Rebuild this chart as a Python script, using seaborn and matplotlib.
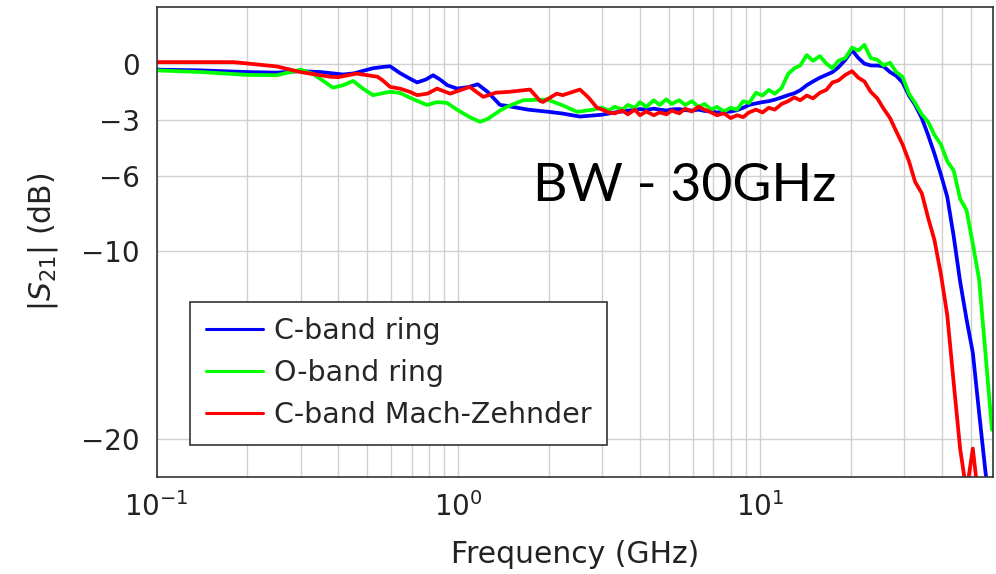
import matplotlib
matplotlib.use("Agg")
import matplotlib.pyplot as plt
import seaborn as sns
import pandas as pd
from matplotlib.ticker import FixedLocator, NullFormatter

# ---------------- data ----------------
series_names = ["C-band ring", "O-band ring", "C-band Mach-Zehnder"]
series_colors = ["#0000ff", "#00ff00", "#ff0000"]

# low-frequency parts (GHz, dB)
blue_freq_lf = [0.10, 0.14, 0.20, 0.25, 0.30, 0.35, 0.415, 0.45, 0.48, 0.52, 0.56, 0.594,
                0.64, 0.70, 0.73, 0.78, 0.825, 0.87, 0.92, 0.99, 1.08, 1.16, 1.25, 1.375,
                1.45, 1.7, 2.0, 2.2, 2.53, 2.8]
blue_db_lf = [-0.32, -0.36, -0.45, -0.48, -0.40, -0.45, -0.58, -0.52, -0.40, -0.25, -0.18, -0.14,
              -0.5, -0.85, -1.0, -0.85, -0.62, -0.85, -1.15, -1.33, -1.25, -1.1, -1.5, -2.2,
              -2.25, -2.45, -2.57, -2.65, -2.82, -2.76]

green_freq_lf = [0.10, 0.14, 0.20, 0.25, 0.30, 0.33, 0.384, 0.415, 0.448, 0.48, 0.521, 0.594,
                 0.64, 0.71, 0.787, 0.85, 0.917, 0.99, 1.09, 1.18, 1.25, 1.375, 1.45, 1.64,
                 1.97, 2.2, 2.48, 2.8]
green_db_lf = [-0.36, -0.45, -0.6, -0.62, -0.32, -0.55, -1.28, -1.15, -0.92, -1.3, -1.68, -1.5,
               -1.56, -1.9, -2.2, -2.05, -2.09, -2.45, -2.85, -3.1, -2.95, -2.5, -2.3, -1.95,
               -1.91, -2.2, -2.57, -2.45]

red_freq_lf = [0.10, 0.18, 0.25, 0.30, 0.376, 0.40, 0.46, 0.54, 0.5625, 0.594, 0.64, 0.69,
               0.73, 0.79, 0.85, 0.94, 1.09, 1.21, 1.33, 1.48, 1.73, 1.87, 1.91, 2.12, 2.22,
               2.53, 2.7, 2.88]
red_db_lf = [0.08, 0.08, -0.15, -0.45, -0.7, -0.72, -0.53, -0.7, -0.9, -1.24, -1.33, -1.5,
             -1.68, -1.6, -1.33, -1.6, -1.24, -1.77, -1.55, -1.5, -1.38, -2.0, -2.04, -1.6, -1.68,
             -1.38, -1.8, -2.34]

# high-frequency parts on a shared frequency grid (GHz)
freq_hf = [3.0, 3.15, 3.3, 3.5, 3.65, 3.85, 4.0, 4.2, 4.45, 4.65,
           4.9, 5.1, 5.4, 5.65, 5.95, 6.25, 6.55, 6.9, 7.2, 7.6,
           8.0, 8.4, 8.8, 9.2, 9.7, 10.2, 10.7, 11.2, 11.8, 12.4,
           13.0, 13.6, 14.3, 15.0, 15.8, 16.6, 17.4, 18.2, 19.2, 20.2,
           21.2, 22.2, 23.3, 24.5, 25.7, 27.0, 28.3, 29.7, 31.2, 32.7,
           34.4, 36.1, 37.9, 39.8, 41.8, 43.9, 46.1, 48.4, 50.8, 53.3,
           56.0, 58.8]
blue_db_hf = [-2.72, -2.66, -2.6, -2.55, -2.5, -2.47, -2.42, -2.46, -2.4, -2.45,
              -2.5, -2.44, -2.42, -2.48, -2.5, -2.45, -2.52, -2.55, -2.6, -2.58,
              -2.55, -2.48, -2.35, -2.2, -2.12, -2.05, -2.0, -1.92, -1.8, -1.68,
              -1.58, -1.42, -1.15, -0.95, -0.75, -0.6, -0.45, -0.2, 0.2, 0.72,
              0.3, 0.0, -0.1, -0.1, -0.15, -0.45, -0.65, -1.0, -1.7, -2.2,
              -2.9, -3.8, -4.8, -5.9, -7.1, -9.2, -11.6, -13.6, -15.4, -18.6,
              -21.8, -24.0]
green_db_hf = [-2.35, -2.5, -2.3, -2.45, -2.2, -2.35, -2.05, -2.3, -1.95, -2.2,
               -1.9, -2.15, -1.95, -2.2, -2.0, -2.3, -2.15, -2.45, -2.3, -2.55,
               -2.35, -2.45, -2.0, -2.1, -1.55, -1.7, -1.4, -1.6, -1.3, -0.55,
               -0.25, -0.1, 0.45, 0.15, 0.4, 0.0, -0.25, 0.15, 0.3, 0.85,
               0.7, 1.0, 0.3, 0.2, -0.1, 0.05, -0.45, -0.7, -1.6, -2.1,
               -2.7, -3.1, -3.8, -4.3, -5.2, -5.7, -7.2, -7.8, -9.6, -11.5,
               -15.5, -19.5]
red_db_hf = [-2.45, -2.6, -2.65, -2.5, -2.7, -2.45, -2.75, -2.55, -2.75, -2.6,
             -2.7, -2.5, -2.65, -2.4, -2.55, -2.3, -2.45, -2.6, -2.75, -2.65,
             -2.9, -2.75, -2.85, -2.6, -2.45, -2.6, -2.35, -2.45, -2.15, -2.0,
             -1.8, -1.95, -1.7, -1.85, -1.55, -1.4, -1.0, -0.9, -0.6, -0.4,
             -0.75, -0.95, -1.5, -1.85, -2.4, -2.9, -3.6, -4.3, -5.2, -6.3,
             -6.9, -8.2, -9.4, -11.2, -13.4, -17.0, -20.5, -22.8, -20.5, -23.5,
             -26.0, -26.0]

y_ticks = [0, -3, -6, -10, -20]
y_tick_labels = ["0", "\u22123", "\u22126", "\u221210", "\u221220"]
x_ticks = [0.1, 1, 10]
x_tick_labels = [r"$10^{-1}$", r"$10^{0}$", r"$10^{1}$"]
annotation_text = "BW - 30GHz"

# ---------------- build frame ----------------
frames = []
for name, f_lf, d_lf, d_hf in [
    (series_names[0], blue_freq_lf, blue_db_lf, blue_db_hf),
    (series_names[1], green_freq_lf, green_db_lf, green_db_hf),
    (series_names[2], red_freq_lf, red_db_lf, red_db_hf),
]:
    frames.append(pd.DataFrame({"freq": f_lf + freq_hf, "db": d_lf + d_hf, "series": name}))
df = pd.concat(frames, ignore_index=True)

# ---------------- plot ----------------
sns.set_theme(style="white")
plt.rcParams["font.family"] = ["DejaVu Sans"]

fig = plt.figure(figsize=(9.96, 5.74), dpi=100)
ax = fig.add_axes([0.1573, 0.1695, 0.8400, 0.8178])

for name, col in zip(series_names, series_colors):
    sub = df[df["series"] == name]
    sns.lineplot(data=sub, x="freq", y="db", color=col, linewidth=2.7,
                 label=name, ax=ax, sort=False, estimator=None)

ax.set_xscale("log")
ax.set_xlim(0.1, 59.4)
ax.set_ylim(-22, 3)

ax.xaxis.set_major_locator(FixedLocator(x_ticks))
ax.set_xticklabels(x_tick_labels)
minor = [m * d for d in [0.1, 1, 10] for m in range(2, 10)]
ax.xaxis.set_minor_locator(FixedLocator(minor))
ax.xaxis.set_minor_formatter(NullFormatter())
ax.set_yticks(y_ticks)
ax.set_yticklabels(y_tick_labels)

ax.grid(True, which="major", color="#d0d0d0", linewidth=1.0)
ax.grid(True, which="minor", axis="x", color="#d0d0d0", linewidth=1.0)
ax.set_axisbelow(True)
ax.tick_params(axis="both", which="both", length=0, labelsize=20, colors="#222222")
ax.tick_params(axis="y", pad=12)
ax.tick_params(axis="x", pad=11)

for sp in ax.spines.values():
    sp.set_color("#333333")
    sp.set_linewidth(1.2)

ax.set_xlabel("Frequency (GHz)", fontsize=21.5, color="#222222")
ax.set_ylabel(r"$|S_{21}|$ (dB)", fontsize=21.5, color="#222222")
ax.xaxis.set_label_coords(0.5, -0.135)
ax.yaxis.set_label_coords(-0.1156, 0.5)

leg = ax.legend(loc="upper left", bbox_to_anchor=(190 / 996, 1 - 301.7 / 574),
                bbox_transform=fig.transFigure, fontsize=20.5, frameon=True,
                fancybox=False, edgecolor="#333333", framealpha=1.0,
                handlelength=2.0, handletextpad=0.4, labelspacing=0.49,
                borderpad=0.55, borderaxespad=0)
leg.get_frame().set_linewidth(1.2)
for line in leg.get_lines():
    line.set_linewidth(2.2)

fig.text(684.5 / 996, 1 - 186.7 / 574, annotation_text, fontsize=38.5,
         family=["Lato", "DejaVu Sans"], ha="center", va="center", color="black")

fig.savefig("out.png", dpi=100)
